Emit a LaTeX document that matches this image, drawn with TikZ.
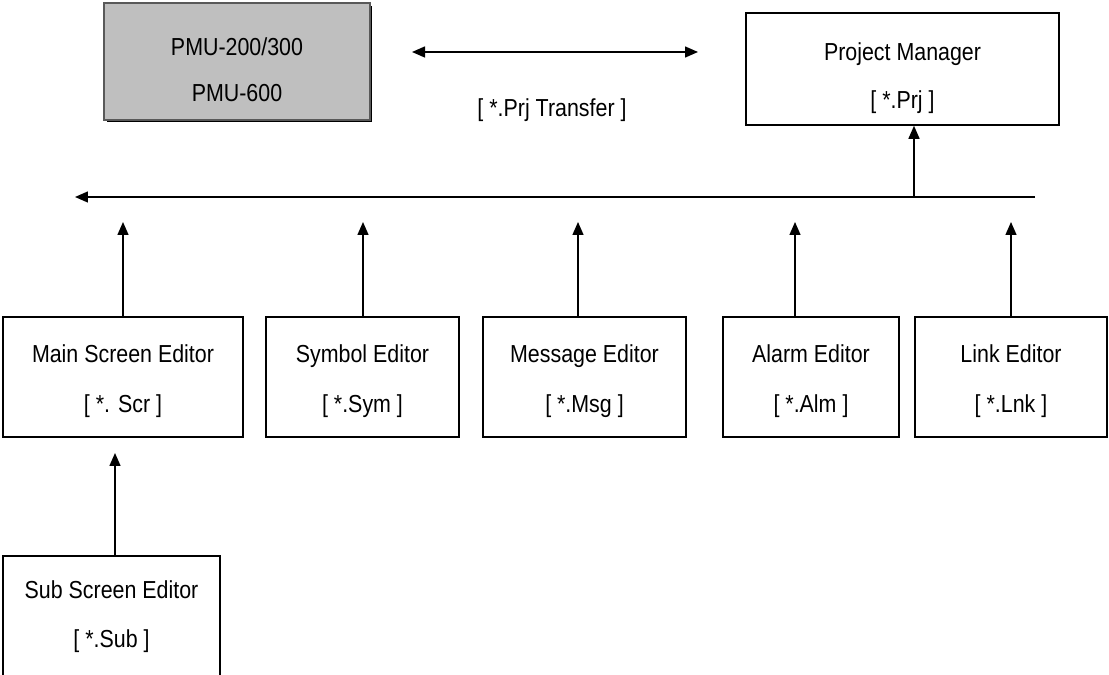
\documentclass[tikz,border=0pt]{standalone}
\usepackage{fontspec}
\setmainfont[FakeStretch=0.87]{Liberation Sans}
\usetikzlibrary{arrows.meta,shadows}
\newcommand{\topgap}[1]{\rule{0pt}{#1}}
\begin{document}
\begin{tikzpicture}[x=0.02cm,y=-0.02cm,
    >={Triangle[length=0.26cm,width=0.22cm]},
    box/.style={rectangle,draw,line width=0.9pt,align=center,minimum height=2.4cm,
      font=\fontsize{14}{28.45}\selectfont},
    link/.style={line width=0.8pt}]
  \useasboundingbox (0,0) rectangle (1109,675);
  % top row
  \node[box,draw=black!65,line width=1.2pt,fill=black!25,minimum width=5.32cm,minimum height=2.34cm,
    font=\fontsize{14}{26.2}\selectfont,
    drop shadow={shadow xshift=0.05cm,shadow yshift=-0.05cm,fill=black,opacity=1}] (PMU) at (237,61.5) {\topgap{0.68cm}PMU-200/300\\PMU-600};
  \node[box,minimum width=6.26cm,minimum height=2.24cm,font=\fontsize{14}{27.3}\selectfont] (PM) at (902.5,69) {\topgap{0.74cm}Project Manager\\{}[ *.Prj ]};
  \coordinate (L) at (412,52);
  \coordinate (R) at (698,52);
  \draw[link,<->] (L) -- (R);
  \node[font=\fontsize{14}{17}\selectfont] (T) at (552,110) {[ *.Prj Transfer ]};
  % bus
  \coordinate (busR) at (1035,197);
  \coordinate (busL) at (75,197);
  \coordinate (busPM) at (914,197);
  \draw[link,->] (busR) -- (busL);
  \draw[link,->] (busPM) -- (busPM |- PM.south);
  % editors
  \node[box,minimum width=4.8cm]  (Scr) at (123,377)   {\topgap{0.54cm}Main Screen Editor\\{}[ *. Scr ]};
  \node[box,minimum width=3.86cm] (Sym) at (362.5,377) {\topgap{0.54cm}Symbol Editor\\{}[ *.Sym ]};
  \node[box,minimum width=4.06cm] (Msg) at (584.5,377) {\topgap{0.54cm}Message Editor\\{}[ *.Msg ]};
  \node[box,minimum width=3.52cm] (Alm) at (811,377)   {\topgap{0.54cm}Alarm Editor\\{}[ *.Alm ]};
  \node[box,minimum width=3.84cm] (Lnk) at (1011,377)  {\topgap{0.54cm}Link Editor\\{}[ *.Lnk ]};
  \node[box,minimum width=4.34cm,minimum height=2.44cm,font=\fontsize{14}{27.9}\selectfont] (Sub) at (111.5,617) {Sub Screen Editor\\{}[ *.Sub ]};
  \coordinate (tScr) at (123,222);
  \coordinate (tSym) at (363,222);
  \coordinate (tMsg) at (578,222);
  \coordinate (tAlm) at (795,222);
  \coordinate (tLnk) at (1011,222);
  \coordinate (tSub) at (115,453);
  \draw[link,->] (tScr |- Scr.north) -- (tScr);
  \draw[link,->] (tSym |- Sym.north) -- (tSym);
  \draw[link,->] (tMsg |- Msg.north) -- (tMsg);
  \draw[link,->] (tAlm |- Alm.north) -- (tAlm);
  \draw[link,->] (tLnk |- Lnk.north) -- (tLnk);
  \draw[link,->] (tSub |- Sub.north) -- (tSub);
\end{tikzpicture}
\end{document}
